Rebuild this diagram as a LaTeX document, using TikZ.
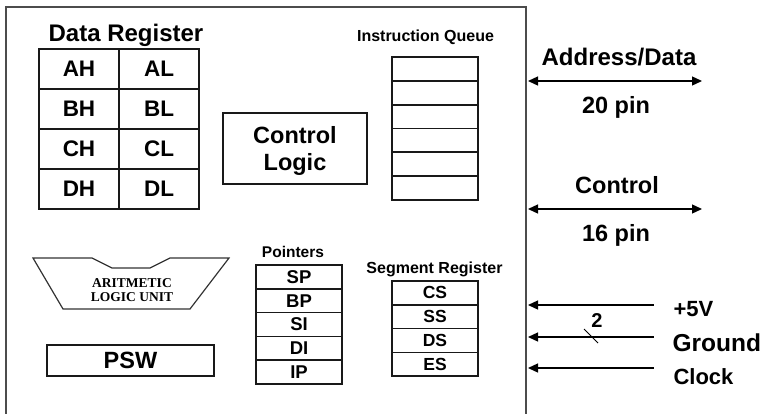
\documentclass[tikz,border=0pt]{standalone}
\usepackage{fontspec}
\setmainfont{Liberation Sans}
\newfontfamily\alufont{Liberation Serif}
\usetikzlibrary{arrows.meta}
\begin{document}
\begin{tikzpicture}[x=1pt,y=-1pt,
  fsz/.style={font=\bfseries\fontsize{#1}{#1}\selectfont},
  frame/.style={draw=black!70, line width=2pt},
  box/.style={draw=black!90, line width=1.5pt},
  dcell/.style={box, fsz=22.5, inner sep=0pt, minimum width=80pt, minimum height=40pt},
  qcell/.style={box, line width=1.7pt, inner sep=0pt, minimum width=86pt, minimum height=23.83pt},
  pcell/.style={box, fsz=18.5, inner sep=0pt, minimum width=86pt, minimum height=23.8pt},
  scell/.style={box, fsz=17.5, inner sep=0pt, minimum width=86pt, minimum height=23.75pt},
  biarrow/.style={line width=1.3pt, {Triangle[length=10pt,width=9pt]}-{Triangle[length=10pt,width=9pt]}},
  inarrow/.style={line width=1.3pt, {Triangle[length=10pt,width=9pt]}-},
]
\useasboundingbox (0,0) rectangle (760,413);

% outer chip outline (open at the bottom)
\coordinate (fbl) at (6,420);
\coordinate (ftl) at (6,7);
\coordinate (ftr) at (526,7);
\coordinate (fbr) at (526,420);
\draw[frame] (fbl) -- (ftl) -- (ftr) -- (fbr);

% Data Register
\node[fsz=24, anchor=base] (drlbl) at (126,41) {Data Register};
\node[dcell] (ah) at (79,69) {AH};
\node[dcell] (al) at (159,69) {AL};
\node[dcell] (bh) at (79,109) {BH};
\node[dcell] (bl) at (159,109) {BL};
\node[dcell] (ch) at (79,149) {CH};
\node[dcell] (cl) at (159,149) {CL};
\node[dcell] (dh) at (79,189) {DH};
\node[dcell] (dl) at (159,189) {DL};

% Control Logic
\node[box, line width=1.3pt, inner sep=0pt, minimum width=144pt, minimum height=71pt] (ctl) at (295,148.5) {};
\node[fsz=23.5, anchor=base] (ctl1) at (295,143) {Control};
\node[fsz=23.5, anchor=base] (ctl2) at (295,170) {Logic};

% Instruction Queue
\node[fsz=16, anchor=base] (iqlbl) at (425.5,41) {Instruction Queue};
\foreach \i in {0,...,5} {
  \node[qcell] (q\i) at (435,{57+11.915+23.83*\i}) {};
}

% Address/Data bus
\node[fsz=24, anchor=base] (adlbl) at (619,65.5) {Address/Data};
\coordinate (ada) at (528,81);
\coordinate (adb) at (702,81);
\draw[biarrow] (ada) -- (adb);
\node[fsz=23.5, anchor=base] (adpin) at (616,113) {20 pin};

% Control bus
\node[fsz=23.5, anchor=base] (cblbl) at (617,193) {Control};
\coordinate (cba) at (528,209);
\coordinate (cbb) at (702,209);
\draw[biarrow] (cba) -- (cbb);
\node[fsz=23.5, anchor=base] (cbpin) at (616,241.5) {16 pin};

% ALU
\coordinate (u1) at (33,258);
\coordinate (u2) at (92,258);
\coordinate (u3) at (112,268);
\coordinate (u4) at (150,268);
\coordinate (u5) at (170,258);
\coordinate (u6) at (229,258);
\coordinate (u7) at (190,309);
\coordinate (u8) at (63,309);
\draw[draw=black!80, line width=1.2pt, line join=miter] (u1) -- (u2) -- (u3) -- (u4) -- (u5) -- (u6) -- (u7) -- (u8) -- cycle;
\node[font=\alufont\bfseries\fontsize{13.5}{13.5}\selectfont, anchor=base] (alu1) at (132,287) {ARITMETIC};
\node[font=\alufont\bfseries\fontsize{13.5}{13.5}\selectfont, anchor=base] (alu2) at (132,301) {LOGIC UNIT};

% PSW
\node[box, fsz=23.5, inner sep=0pt, minimum width=167pt, minimum height=31pt] (psw) at (130.5,360.5) {PSW};

% Pointers
\node[fsz=15.5, anchor=base] (ptlbl) at (293,257) {Pointers};
\node[pcell] (sp) at (299,{265+11.9}) {SP};
\node[pcell] (bp) at (299,{265+11.9+23.8}) {BP};
\node[pcell] (si) at (299,{265+11.9+47.6}) {SI};
\node[pcell] (di) at (299,{265+11.9+71.4}) {DI};
\node[pcell] (ip) at (299,{265+11.9+95.2}) {IP};

% Segment Register
\node[fsz=16, anchor=base] (sglbl) at (434.5,273) {Segment Register};
\node[scell] (cs) at (435,{281+11.875}) {CS};
\node[scell] (ss) at (435,{281+11.875+23.75}) {SS};
\node[scell] (ds) at (435,{281+11.875+47.5}) {DS};
\node[scell] (es) at (435,{281+11.875+71.25}) {ES};

% Power, ground and clock inputs
\coordinate (vin) at (528,305);
\coordinate (vout) at (654,305);
\draw[inarrow] (vin) -- (vout);
\node[fsz=22, anchor=base west] (vlbl) at (670,316) {+5V};

\coordinate (gin) at (528,337);
\coordinate (gout) at (654,337);
\draw[inarrow] (gin) -- (gout);
\node[fsz=24.5, anchor=base west] (glbl) at (669,351) {Ground};
\coordinate (gs1) at (584,329);
\coordinate (gs2) at (598,343);
\draw[line width=0.8pt] (gs1) -- (gs2);
\node[fsz=20] (gcount) at (597,321) {2};

\coordinate (kin) at (528,368);
\coordinate (kout) at (654,368);
\draw[inarrow] (kin) -- (kout);
\node[fsz=22, anchor=base west] (klbl) at (670,384) {Clock};
\end{tikzpicture}
\end{document}
